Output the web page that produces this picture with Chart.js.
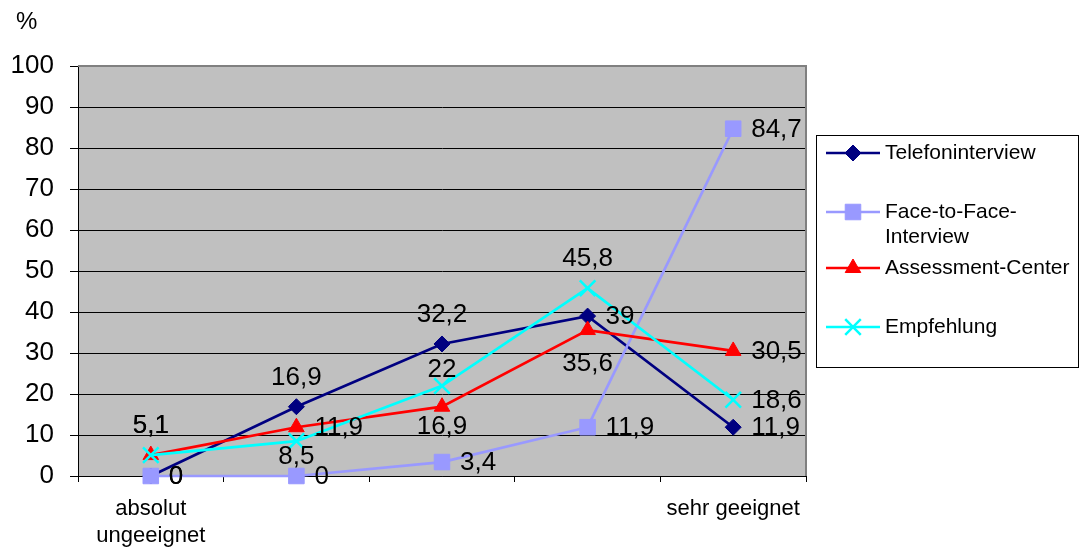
<!DOCTYPE html>
<html>
<head>
<meta charset="utf-8">
<title>Eignung der Verfahren</title>
<script src="https://cdn.jsdelivr.net/npm/chart.js@4/dist/chart.umd.min.js"></script>
<style>
    body { margin: 0; background: #fff; }
    #wrap { width: 1081px; height: 549px; }
</style>
</head>
<body>
<div id="wrap"><canvas id="chart" width="1081" height="549"></canvas></div>
<script>
// Chart data
const categories = [['absolut', 'ungeeignet'], '', '', '', 'sehr geeignet'];
const seriesNames = ['Telefoninterview', 'Face-to-Face-Interview', 'Assessment-Center', 'Empfehlung'];
const telefonValues = [0, 16.9, 32.2, 39, 11.9];
const faceValues = [0, 0, 3.4, 11.9, 84.7];
const assessmentValues = [5.1, 11.9, 16.9, 35.6, 30.5];
const empfehlungValues = [5.1, 8.5, 22, 45.8, 18.6];
const yMin = 0;
const yMax = 100;
const yStep = 10;
const unitLabel = '%';

// Where each value label sits relative to its point
const labelPlacement = [
    ['right', 'above', 'above', 'right', 'right'],
    ['right', 'right', 'right', 'right', 'right'],
    ['above', 'right', 'below', 'belowFar', 'right'],
    ['above', 'belowNear', 'aboveNear', 'above', 'right']
];
const labelOffsets = { above: -29, aboveNear: -16, below: 20, belowNear: 16, belowFar: 34 };

const FONT = "'Liberation Sans', Arial, sans-serif";

function makeSeries(label, data, color, pointStyle, radius, order) {
    return {
        label: label,
        data: data,
        borderColor: color,
        backgroundColor: color,
        pointBackgroundColor: color,
        pointBorderColor: color,
        pointStyle: pointStyle,
        pointRadius: radius,
        pointBorderWidth: pointStyle === 'crossRot' ? 2.5 : 1,
        borderWidth: 2.7,
        tension: 0,
        clip: false,
        order: order
    };
}

// Plot background + grey frame on top / right
const plotFrame = {
    id: 'plotFrame',
    beforeDraw(chart) {
        const { ctx, chartArea: a } = chart;
        ctx.save();
        ctx.fillStyle = '#c0c0c0';
        ctx.fillRect(a.left, a.top, a.right - a.left, a.bottom - a.top);
        ctx.restore();
    },
    beforeDatasetsDraw(chart) {
        const { ctx, chartArea: a } = chart;
        ctx.save();
        ctx.strokeStyle = '#808080';
        ctx.lineWidth = 2;
        ctx.beginPath();
        ctx.moveTo(a.left, a.top);
        ctx.lineTo(a.right, a.top);
        ctx.lineTo(a.right, a.bottom);
        ctx.stroke();
        ctx.restore();

        // unit label above the y axis
        ctx.save();
        ctx.fillStyle = '#000';
        ctx.font = '24px ' + FONT;
        ctx.textAlign = 'left';
        ctx.textBaseline = 'middle';
        ctx.fillText(unitLabel, 16, 22);
        ctx.restore();
    }
};

// Value labels next to points
const valueLabels = {
    id: 'valueLabels',
    afterDatasetsDraw(chart) {
        const ctx = chart.ctx;
        ctx.save();
        ctx.fillStyle = '#000';
        ctx.font = '26px ' + FONT;
        ctx.textBaseline = 'middle';
        chart.data.datasets.forEach((ds, i) => {
            const meta = chart.getDatasetMeta(i);
            meta.data.forEach((pt, j) => {
                const text = String(ds.data[j]).replace('.', ',');
                const pos = labelPlacement[i][j];
                if (pos === 'right') {
                    ctx.textAlign = 'left';
                    ctx.fillText(text, pt.x + 18, pt.y + 1);
                } else {
                    ctx.textAlign = 'center';
                    ctx.fillText(text, pt.x, pt.y + labelOffsets[pos]);
                }
            });
        });
        ctx.restore();
    }
};

// Boxed legend on the right
const boxLegend = {
    id: 'boxLegend',
    afterDraw(chart) {
        const ctx = chart.ctx;
        const box = { left: 816.5, top: 135.5, right: 1078.5, bottom: 367.5 };
        const rows = [153, 212, 268, 327];
        ctx.save();
        ctx.strokeStyle = '#000';
        ctx.lineWidth = 1;
        ctx.fillStyle = '#fff';
        ctx.fillRect(box.left, box.top, box.right - box.left, box.bottom - box.top);
        ctx.strokeRect(box.left, box.top, box.right - box.left, box.bottom - box.top);

        chart.data.datasets.forEach((ds, i) => {
            const y = rows[i];
            ctx.strokeStyle = ds.borderColor;
            ctx.lineWidth = ds.borderWidth;
            ctx.beginPath();
            ctx.moveTo(826, y);
            ctx.lineTo(880, y);
            ctx.stroke();

            ctx.fillStyle = ds.pointBackgroundColor;
            ctx.strokeStyle = ds.pointBorderColor;
            ctx.lineWidth = ds.pointBorderWidth;
            Chart.helpers.drawPoint(ctx, {
                pointStyle: ds.pointStyle,
                radius: ds.pointRadius,
                rotation: 0,
                borderWidth: ds.pointBorderWidth
            }, 853, y);

            ctx.fillStyle = '#000';
            ctx.font = '21px ' + FONT;
            ctx.textAlign = 'left';
            ctx.textBaseline = 'middle';
            // break long names after a hyphen
            const lines = ctx.measureText(ds.label).width > 185
                ? ds.label.replace(/-(?=[^-]*$)/, '-\n').split('\n')
                : [ds.label];
            lines.forEach((line, k) => ctx.fillText(line, 885, y + k * 25));
        });
        ctx.restore();
    }
};

const chart = new Chart(document.getElementById('chart'), {
    type: 'line',
    data: {
        labels: categories,
        datasets: [
            makeSeries(seriesNames[0], telefonValues, '#000080', 'rectRot', 8, 3),
            makeSeries(seriesNames[1], faceValues, '#9999ff', 'rect', 11, 2),
            makeSeries(seriesNames[2], assessmentValues, '#ff0000', 'triangle', 9, 1),
            makeSeries(seriesNames[3], empfehlungValues, '#00ffff', 'crossRot', 11, 0)
        ]
    },
    options: {
        responsive: false,
        animation: false,
        layout: { padding: { top: 66, right: 275, left: 0, bottom: 0 } },
        plugins: {
            legend: { display: false },
            tooltip: { enabled: false },
            title: { display: false }
        },
        scales: {
            x: {
                offset: true,
                grid: {
                    offset: true,
                    drawOnChartArea: false,
                    color: '#000',
                    tickLength: 6
                },
                border: { color: '#000', width: 1 },
                ticks: {
                    color: '#000',
                    font: { family: FONT, size: 22, lineHeight: 1.22 },
                    padding: 14,
                    maxRotation: 0,
                    autoSkip: false
                },
                afterFit(scale) { scale.height = 73; }
            },
            y: {
                min: yMin,
                max: yMax,
                ticks: {
                    stepSize: yStep,
                    color: '#000',
                    font: { family: FONT, size: 26 },
                    padding: 16
                },
                grid: {
                    color: '#000',
                    lineWidth: 1,
                    tickLength: 8
                },
                border: { color: '#000', width: 1 },
                afterFit(scale) { scale.width = 78; }
            }
        }
    },
    plugins: [plotFrame, valueLabels, boxLegend]
});
</script>
</body>
</html>
